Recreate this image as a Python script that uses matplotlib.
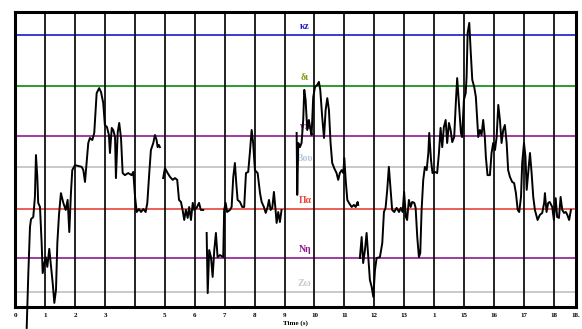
import numpy as np
import matplotlib.pyplot as plt

# pitch contour (time in s, level in arbitrary units 0-100); NaN = unvoiced gap
time_s = [
    0.375, 0.43, 0.485, 0.52, 0.595, 0.65, 0.685, 0.73, 0.76, 0.82, 0.875, 0.91, 0.965, 1.01,
    1.065, 1.13, 1.19, 1.245, 1.30, 1.355, 1.40, 1.455, 1.52, 1.60, 1.68, 1.745, 1.80, 1.855,
    1.90, 1.99, 2.10, 2.215, 2.27, 2.325, 2.38, 2.435, 2.49, 2.57, 2.635, 2.715, 2.80, 2.86,
    2.935, 2.99, 3.06, 3.125, 3.16, 3.22, 3.27, 3.33, 3.36, 3.42, 3.47, 3.53, 3.585, 3.66,
    3.77, 3.885, 3.94, 4.00, 4.055, 4.13, 4.20, 4.275, 4.355, 4.41, 4.475, 4.53, 4.61, 4.665,
    4.72, 4.755, 4.80, 4.83, 4.88,
    4.94, 5.00, 5.09, 5.17, 5.26, 5.335, 5.41, 5.47, 5.535, 5.59, 5.645, 5.70, 5.76, 5.81,
    5.87, 5.93, 5.98, 6.06, 6.14, 6.20, 6.28, 6.34,
    6.395, 6.43, 6.48, 6.54, 6.595, 6.65, 6.705, 6.76, 6.84, 6.95, 6.98, 7.03, 7.08, 7.175,
    7.23, 7.285, 7.34, 7.385, 7.43, 7.51, 7.585, 7.65, 7.71, 7.785, 7.84, 7.90, 7.95, 8.01,
    8.10, 8.18, 8.235, 8.31, 8.37, 8.435, 8.48, 8.535, 8.59, 8.645, 8.70, 8.735, 8.79, 8.845,
    8.90, 9.10,
    9.405, 9.425, 9.46, 9.515, 9.57, 9.625, 9.66, 9.705, 9.76, 9.815, 9.87, 9.905, 9.96, 10.02,
    10.095, 10.15, 10.195, 10.26, 10.32, 10.375, 10.43, 10.485, 10.54, 10.595, 10.66, 10.74,
    10.795, 10.85, 10.91, 10.965, 11.00, 11.045, 11.10, 11.155, 11.245, 11.32, 11.38, 11.445,
    11.465, 11.49,
    11.52, 11.58, 11.63, 11.69, 11.745, 11.80, 11.855, 11.915, 11.97, 12.025, 12.08, 12.19,
    12.27, 12.325, 12.38, 12.435, 12.49, 12.55, 12.60, 12.67, 12.75, 12.83, 12.89, 12.95,
    13.00, 13.06, 13.10, 13.16, 13.22, 13.27, 13.34, 13.385, 13.44, 13.495, 13.54, 13.585,
    13.64, 13.695, 13.755, 13.81, 13.84, 13.90, 13.95, 14.03, 14.105, 14.165, 14.22, 14.275,
    14.33, 14.39, 14.44, 14.50, 14.555, 14.61, 14.675, 14.73, 14.775, 14.83, 14.90, 14.94,
    15.00, 15.06, 15.09, 15.125, 15.18, 15.225, 15.28, 15.345, 15.40, 15.445, 15.48, 15.535,
    15.59, 15.645, 15.70, 15.735, 15.79, 15.87, 15.925, 15.98, 16.04, 16.095, 16.15, 16.205,
    16.26, 16.315, 16.37, 16.43, 16.48, 16.54, 16.615, 16.68, 16.74, 16.80, 16.85, 16.91,
    16.95, 17.01, 17.06, 17.10, 17.15, 17.21, 17.265, 17.32, 17.375, 17.465, 17.54, 17.62,
    17.685, 17.71, 17.765, 17.82, 17.87, 17.955, 18.01, 18.07, 18.12, 18.18, 18.235, 18.29,
    18.35, 18.41, 18.46, 18.52, 18.58,
]
pitch = [
    -7.1, 11.5, 27.1, 29.8, 30.5, 37.3, 51.5, 44.1, 35.3, 33.9, 21.7, 11.5, 14.9, 16.9,
    13.6, 19.7, 13.6, 8.1, 1.4, 5.8, 21.7, 31.2, 38.6, 35.3, 32.9, 36.3, 25.4, 38.6,
    46.4, 48.1, 47.8, 47.5, 46.4, 42.4, 48.8, 55.6, 57.3, 56.6, 59.0, 72.5, 74.2, 72.9,
    69.2, 61.7, 61.0, 58.3, 52.2, 60.7, 60.0, 57.6, 43.7, 59.3, 62.4, 57.3, 45.4, 44.7,
    45.4, 44.7, 45.8, 37.3, 32.2, 33.2, 32.2, 33.2, 32.2, 35.3, 45.4, 53.2, 55.6, 58.3,
    56.6, 54.2, 54.9, 54.2, np.nan,
    43.7, 47.1, 45.4, 44.1, 43.1, 43.7, 43.1, 36.3, 35.6, 32.9, 29.5, 32.9, 30.2, 33.9,
    29.5, 35.3, 32.9, 33.6, 35.3, 32.9, 32.9, np.nan,
    25.1, 4.7, 19.3, 16.9, 10.2, 19.3, 25.1, 16.9, 17.6, 16.9, 32.9, 35.3, 32.2, 32.9,
    33.9, 44.1, 48.8, 42.0, 36.3, 35.6, 33.9, 33.9, 45.4, 45.8, 52.2, 60.0, 55.6, 46.4,
    45.4, 38.6, 35.6, 33.9, 31.9, 33.9, 36.3, 32.9, 33.6, 39.0, 32.9, 28.5, 32.2, 28.8,
    32.9, np.nan,
    59.0, 38.0, 55.6, 54.2, 55.6, 63.4, 73.6, 70.2, 60.0, 63.4, 60.0, 58.3, 71.2, 74.6,
    75.3, 76.3, 73.6, 64.4, 57.3, 66.8, 70.8, 66.8, 55.6, 48.8, 47.1, 45.4,
    43.1, 45.4, 46.4, 45.4, 50.5, 43.1, 36.3, 35.3, 33.9, 34.6, 33.9, 35.6,
    34.6, np.nan,
    16.6, 23.7, 14.9, 19.3, 25.1, 16.9, 9.2, 6.8, 3.4, 12.5, 16.6, 16.9,
    21.7, 32.2, 33.6, 39.7, 47.5, 39.7, 32.9, 32.2, 33.6, 32.2, 33.6, 32.2,
    39.0, 30.5, 29.5, 36.3, 33.9, 35.6, 35.3, 33.6, 23.7, 16.9, 18.3, 32.9,
    43.1, 47.5, 46.4, 52.2, 59.0, 49.8, 45.4, 45.8, 45.4, 52.2, 60.7, 54.2,
    61.0, 63.4, 55.6, 62.4, 60.0, 55.9, 57.6, 69.2, 77.6, 69.2, 59.0, 57.6,
    70.2, 72.5, 78.0, 92.9, 96.3, 87.1, 77.0, 74.6, 71.2, 63.4, 57.6, 60.0,
    58.3, 63.4, 57.6, 50.8, 44.7, 44.7, 52.2, 55.6, 53.2, 57.6, 68.5, 63.4,
    55.6, 60.0, 61.7, 55.6, 46.4, 44.1, 42.4, 42.0, 38.6, 32.9, 32.2, 37.3,
    48.8, 55.6, 50.8, 39.7, 45.4, 52.2, 45.4, 37.3, 32.9, 29.5, 31.2, 31.9,
    35.3, 38.6, 32.2, 35.3, 35.6, 33.9, 29.5, 36.9, 30.5, 30.2, 37.3, 32.9,
    31.9, 32.2, 31.2, 29.5, 32.9,
]

# reference levels
level_names = ["κz", "δι", "γπ", "Bου", "Πα", "Nη", "Zω"]
level_values = [92.1, 74.8, 58.1, 47.4, 33.2, 16.5, 5.1]
level_colors = ["#1a1acc", "#0a8a0a", "#8e1a8e", "#c0c0c0", "#e8453c", "#8e1a8e", "#c0c0c0"]
label_colors = ["#1a1acc", "#7a9a10", "#8e1a8e", "#b8c8dc", "#e8453c", "#8e1a8e", "#c8c8c8"]

tick_values = list(range(19)) + [18.75]
tick_labels = ["0", "1", "2", "3", "", "5", "6", "7", "8", "9", "10", "11", "12", "13",
               "1", "15", "16", "17", "18", "18."]


def main() -> None:
    fig = plt.figure(figsize=(5.82, 3.29), dpi=100)
    ax = fig.add_axes([0.0266, 0.0669, 0.9631, 0.8966])

    for val, col in zip(level_values, level_colors):
        ax.axhline(val, color=col, linewidth=1.2, zorder=1)
    for t in range(1, 19):
        ax.axvline(t, color="#111111", linewidth=1.3, zorder=2)

    for name, val, col in zip(level_names, level_values, label_colors):
        ax.text(9.68, val + 1.5, name, color=col, fontsize=7, fontweight="bold",
                family="Liberation Serif", ha="center", va="bottom", zorder=3)

    ax.plot(time_s, pitch, color="black", linewidth=1.4, zorder=4, clip_on=False)

    ax.set_xlim(0, 18.75)
    ax.set_ylim(0, 100)
    ax.set_xticks(tick_values)
    ax.set_xticklabels(tick_labels, fontsize=5, fontweight="bold", family="Liberation Serif")
    ax.tick_params(axis="x", length=0, pad=4)
    ax.set_yticks([])
    ax.set_xlabel("Time (s)", fontsize=5, fontweight="bold", family="Liberation Serif", labelpad=2)

    for side in ["top", "bottom", "left", "right"]:
        ax.spines[side].set_linewidth(2.2)
        ax.spines[side].set_color("black")

    fig.savefig("out.png", dpi=100)
    plt.close(fig)


if __name__ == "__main__":
    main()
